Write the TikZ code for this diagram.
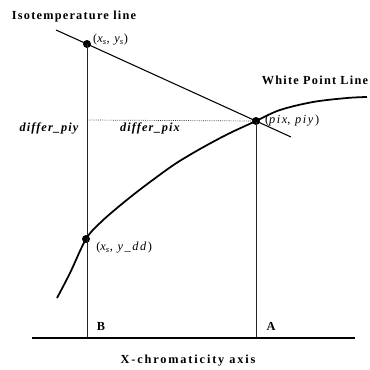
\documentclass[tikz,border=0pt]{standalone}
\usepackage{fontspec}
\setmainfont{Liberation Serif}
\usetikzlibrary{positioning}

\newcommand{\crdtxt}[2]{(\textit{#1}, \textit{#2})}
\newcommand{\spaced}[1]{\fontsize{10.5}{12}\selectfont\addfontfeatures{LetterSpace=#1}}

\begin{document}
\begin{tikzpicture}[x=0.03cm, y=-0.03cm,
  dot/.style={circle, fill=black, inner sep=0pt, minimum size=6.8pt},
  ttl/.style={font=\spaced{10}\bfseries, inner sep=1pt},
  axt/.style={font=\spaced{15}\bfseries, inner sep=1pt},
  crd/.style={font=\spaced{13}, inner sep=1pt},
  dif/.style={font=\spaced{9}\bfseries\itshape, inner sep=1pt},
  thinln/.style={line width=0.7pt, black!85},
  curve/.style={line width=1.5pt}]
  \useasboundingbox (0,0) rectangle (369,370);
  % points
  \node[dot] (xs) at (87,44) {};
  \node[dot] (pi) at (256,121) {};
  \node[dot] (xd) at (86,239) {};
  \coordinate (isoa) at (56,30);
  \coordinate (isob) at (291,137);
  \coordinate (axl) at (32,338);
  \coordinate (axr) at (355,338);
  \coordinate (bb) at (87,338);
  \coordinate (aa) at (256,338);
  \coordinate (dl) at (87,120);
  % lines
  \draw[line width=0.9pt] (isoa) -- (xs.center) -- (pi.center) -- (isob);
  \draw[thinln] (xs.center) -- (bb);
  \draw[thinln] (pi.center) -- (aa);
  \draw[densely dotted, line width=0.6pt, black!80] (dl) -- (pi.center);
  \draw[line width=2pt] (axl) -- (axr);
  \draw[curve] plot[smooth, tension=0.55] coordinates {(57,298) (70,273) (xd.center) (100,223) (117,208) (133,195) (150,182) (175,164) (200,149) (228,134) (pi.center) (280,110) (313,102) (347,98) (367,97)};
  % labels
  \node[ttl] (isolbl) at (74,17) {Isotemperature line};
  \node[ttl] (wplbl) at (315,80) {White Point Line};
  \node[axt] (axlbl) at (188,361) {X-chromaticity axis};
  \node[ttl] (blbl) at (101,326) {B};
  \node[ttl] (albl) at (271,326) {A};
  \node[crd, right=0.5pt of xs, yshift=3.4pt] (xslbl) {\crdtxt{x\textsubscript{s}}{y\textsubscript{s}}};
  \node[crd, right=3pt of pi] (pilbl) {\crdtxt{pix}{piy}};
  \node[crd, right=4pt of xd, yshift=-7.6pt] (xdlbl) {\crdtxt{x\textsubscript{s}}{y\_dd}};
  \node[dif] (piylbl) at (49,128) {differ\_piy};
  \node[dif] (pixlbl) at (150,128) {differ\_pix};
\end{tikzpicture}
\end{document}
